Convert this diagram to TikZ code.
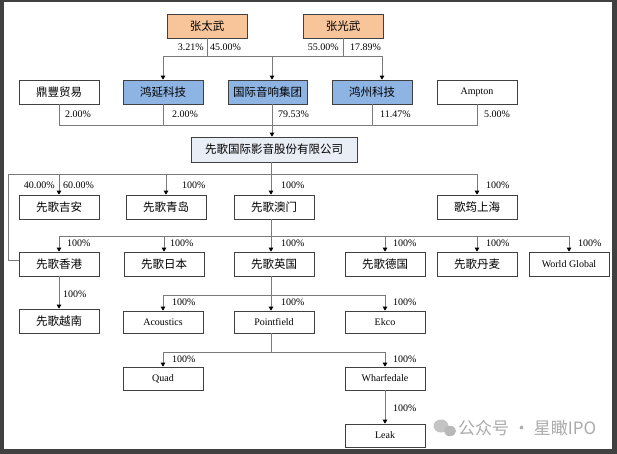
\documentclass[tikz,border=0pt]{standalone}
\usepackage{fontspec}
\setmainfont{Liberation Serif}
\newfontfamily\cjk{Noto Sans CJK SC}
\usetikzlibrary{arrows.meta}
\definecolor{framec}{HTML}{404040}
\definecolor{boxc}{HTML}{404040}
\definecolor{linec}{HTML}{7A7A7A}
\definecolor{orangef}{HTML}{F8C49A}
\definecolor{bluef}{HTML}{8EB4E3}
\definecolor{mainf}{HTML}{E9EDF5}
\definecolor{wmc}{HTML}{ABABAB}
\tikzset{
  box/.style={draw=boxc, line width=0.7pt, minimum width=80pt, minimum height=24pt, inner sep=0pt, fill=white},
  cn/.style={font=\cjk\fontsize{11.5}{12}\selectfont},
  en/.style={font=\fontsize{10}{11}\selectfont},
  pct/.style={font=\fontsize{10}{11}\selectfont, inner sep=0pt, anchor=west},
  pctl/.style={font=\fontsize{10}{11}\selectfont, inner sep=0pt, anchor=east},
  ln/.style={draw=linec, line width=0.8pt},
  arr/.style={ln, -{Triangle[length=4pt,width=4.5pt,color=black]}},
}
\begin{document}
\begin{tikzpicture}[x=1pt,y=-1pt]
\useasboundingbox (0,0) rectangle (617,454);
\fill[framec] (0,0) rectangle (617,454);
\fill[white] (4,2) rectangle (612,449);

% row 1
\node[box, cn, fill=orangef] (zt) at (207,26) {张太武};
\node[box, cn, fill=orangef] (zg) at (343,26) {张光武};
% row 2
\node[box, cn] (df) at (59,92) {鼎豐贸易};
\node[box, cn, fill=bluef] (hy) at (163,92) {鸿延科技};
\node[box, cn, fill=bluef, minimum width=79pt] (gj) at (267.5,92) {国际音响集团};
\node[box, cn, fill=bluef] (hz) at (372,92) {鸿州科技};
\node[box, en] (amp) at (477,92) {Ampton};
% main
\node[box, cn, fill=mainf, minimum width=166pt, minimum height=25pt] (xg) at (274,149.5) {先歌国际影音股份有限公司};
% row 3
\node[box, cn] (ja) at (59,207) {先歌吉安};
\node[box, cn] (qd) at (166,207) {先歌青岛};
\node[box, cn] (am) at (274,207) {先歌澳门};
\node[box, cn] (sh) at (477,207) {歌筠上海};
% row 4
\node[box, cn] (hk) at (59,264) {先歌香港};
\node[box, cn] (jp) at (164,264) {先歌日本};
\node[box, cn] (uk) at (274,264) {先歌英国};
\node[box, cn] (de) at (385,264) {先歌德国};
\node[box, cn] (dk) at (477,264) {先歌丹麦};
\node[box, en] (wg) at (569,264) {World Global};
\node[box, cn] (vn) at (59,321) {先歌越南};
% row 5
\node[box, en, minimum height=22pt] (ac) at (163,322) {Acoustics};
\node[box, en, minimum height=22pt] (pf) at (274,322) {Pointfield};
\node[box, en, minimum height=22pt] (ek) at (385,322) {Ekco};
% row 6
\node[box, en, minimum height=23pt] (qu) at (163,378.5) {Quad};
\node[box, en, minimum height=23pt] (wh) at (385,378.5) {Wharfedale};
\node[box, en, minimum height=23pt] (lk) at (385,435.5) {Leak};

% connectors row 1
\coordinate (a1) at (272,56);
\coordinate (hzA) at (382,56);
\draw[ln] (zt.south) -- (zt.south |- a1);
\draw[ln] (zg.south) -- (zg.south |- a1);
\draw[ln] (hy.north |- a1) -- (hzA);
\draw[arr] (hy.north |- a1) -- (hy.north);
\draw[arr] (a1) -- (a1 |- gj.north);
\draw[arr] (hzA) -- (hzA |- hz.north);
% row 2
\coordinate (b1) at (272,125);
\draw[ln] (df.south) -- (df.south |- b1) -- (amp.south |- b1) -- (amp.south);
\draw[ln] (hy.south) -- (hy.south |- b1);
\draw[ln] (hz.south) -- (hz.south |- b1);
\draw[ln] (a1 |- gj.south) -- (b1);
\draw[arr] (b1) -- (b1 |- xg.north);
% row 3
\coordinate (c1) at (271,174);
\coordinate (cl) at (8,174);
\coordinate (hkj) at (8,260);
\draw[ln] (c1 |- xg.south) -- (c1);
\draw[ln] (cl) -- (sh.north |- c1);
\draw[ln] (cl) -- (hkj) -- (hkj -| hk.west);
\draw[arr] (ja.north |- c1) -- (ja.north);
\draw[arr] (qd.north |- c1) -- (qd.north);
\draw[arr] (c1) -- (c1 |- am.north);
\draw[arr] (sh.north |- c1) -- (sh.north);
% row 4
\coordinate (d1) at (271,236);
\draw[ln] (c1 |- am.south) -- (d1);
\draw[ln] (hk.north |- d1) -- (wg.north |- d1);
\draw[arr] (hk.north |- d1) -- (hk.north);
\draw[arr] (jp.north |- d1) -- (jp.north);
\draw[arr] (d1) -- (d1 |- uk.north);
\draw[arr] (de.north |- d1) -- (de.north);
\draw[arr] (dk.north |- d1) -- (dk.north);
\draw[arr] (wg.north |- d1) -- (wg.north);
\draw[arr] (hk.south) -- (vn.north);
% row 5
\coordinate (e1) at (271,295);
\draw[ln] (e1 |- uk.south) -- (e1);
\draw[ln] (ac.north |- e1) -- (ek.north |- e1);
\draw[arr] (ac.north |- e1) -- (ac.north);
\draw[arr] (e1) -- (e1 |- pf.north);
\draw[arr] (ek.north |- e1) -- (ek.north);
% row 6
\coordinate (f1) at (271,352);
\draw[ln] (f1 |- pf.south) -- (f1);
\draw[ln] (qu.north |- f1) -- (wh.north |- f1);
\draw[arr] (qu.north |- f1) -- (qu.north);
\draw[arr] (wh.north |- f1) -- (wh.north);
\draw[arr] (wh.south) -- (lk.north);

% percentages
\node[pctl] (p1) at (204,47) {3.21\%};
\node[pct] (p2) at (210,47) {45.00\%};
\node[pctl] (p3) at (339,47) {55.00\%};
\node[pct] (p4) at (350,47) {17.89\%};
\node[pct] (p5) at (65,114) {2.00\%};
\node[pct] (p6) at (172,114) {2.00\%};
\node[pct] (p7) at (278,114) {79.53\%};
\node[pct] (p8) at (380,114) {11.47\%};
\node[pct] (p9) at (484,114) {5.00\%};
\node[pctl] (p10) at (55,185) {40.00\%};
\node[pct] (p11) at (63,185) {60.00\%};
\node[pct] (p12) at (182,185) {100\%};
\node[pct] (p13) at (281,185) {100\%};
\node[pct] (p14) at (486,185) {100\%};
\node[pct] (p15) at (67,243) {100\%};
\node[pct] (p16) at (170,243) {100\%};
\node[pct] (p17) at (281,243) {100\%};
\node[pct] (p18) at (393,243) {100\%};
\node[pct] (p19) at (486,243) {100\%};
\node[pct] (p20) at (578,243) {100\%};
\node[pct] (p21) at (63,294) {100\%};
\node[pct] (p22) at (172,302) {100\%};
\node[pct] (p23) at (281,302) {100\%};
\node[pct] (p24) at (393,302) {100\%};
\node[pct] (p25) at (172,359) {100\%};
\node[pct] (p26) at (393,359) {100\%};
\node[pct] (p27) at (393,408) {100\%};

% watermark
\fill[wmc!70] (441,426) ellipse (7.5 and 6.5);
\fill[wmc!85] (450,431) ellipse (6 and 5.2);
\node[font=\cjk\fontsize{17}{18}\selectfont, text=wmc, anchor=west, inner sep=0pt] (wm) at (458,428) {公众号 · 星瞰IPO};
\end{tikzpicture}
\end{document}
